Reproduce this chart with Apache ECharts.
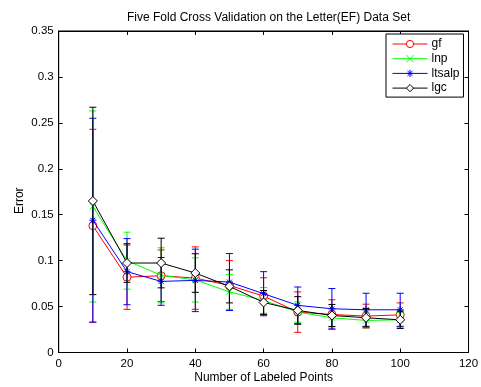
<!DOCTYPE html>
<html>
<head>
<meta charset="utf-8">
<script src="https://cdn.jsdelivr.net/npm/echarts@6/dist/echarts.min.js"></script>
<style>
  html, body { margin: 0; padding: 0; background: #fff; }
  #chart { width: 481px; height: 387px; }
</style>
</head>
<body>
<div id="chart"></div>
<script>
// Number of labeled points per experiment
const labeledPoints = [10, 20, 30, 40, 50, 60, 70, 80, 90, 100];

// Mean error and its spread (half-width of the error bar) per method
const gfMean     = [0.138, 0.082, 0.0836, 0.081, 0.073, 0.0614, 0.044, 0.0414, 0.0396, 0.041];
const gfErr      = [0.105, 0.035, 0.028, 0.034, 0.027, 0.020, 0.022, 0.016, 0.013, 0.013];
const lnpMean    = [0.159, 0.100, 0.084, 0.079, 0.066, 0.0567, 0.044, 0.0378, 0.0349, 0.0356];
const lnpErr     = [0.104, 0.031, 0.030, 0.024, 0.019, 0.014, 0.011, 0.010, 0.008, 0.008];
const ltsalpMean = [0.144, 0.088, 0.0774, 0.0785, 0.0767, 0.064, 0.0513, 0.0476, 0.0465, 0.0465];
const ltsalpErr  = [0.111, 0.036, 0.026, 0.034, 0.031, 0.024, 0.020, 0.022, 0.018, 0.018];
const lgcMean    = [0.165, 0.0974, 0.0974, 0.0865, 0.072, 0.0545, 0.0458, 0.0403, 0.0378, 0.0356];
const lgcErr     = [0.102, 0.021, 0.027, 0.021, 0.018, 0.013, 0.015, 0.012, 0.010, 0.0095];

const seriesNames = ['gf', 'lnp', 'ltsalp', 'lgc'];
const xTicks = [0, 20, 40, 60, 80, 100, 120];
const yTicks = [0, 0.05, 0.1, 0.15, 0.2, 0.25, 0.3, 0.35];

const FONT = '"Liberation Sans", Arial, Helvetica, sans-serif';

// Marker outlines: open circle, cross, asterisk, open diamond
const CIRCLE = 'path://M10,5A5,5,0,1,1,0,5A5,5,0,1,1,10,5Z';
const CROSS = 'path://M0,0L10,10M10,0L0,10';
const ASTERISK = 'path://M5,0L5,10M0,5L10,5M1.5,1.5L8.5,8.5M8.5,1.5L1.5,8.5';
const DIAMOND = 'path://M5,0L10,5L5,10L0,5Z';

const methods = [
  { name: 'gf',     mean: gfMean,     err: gfErr,     color: '#ff0000', symbol: CIRCLE,   size: 8, fill: '#ffffff' },
  { name: 'lnp',    mean: lnpMean,    err: lnpErr,    color: '#00ff00', symbol: CROSS,    size: 6, fill: '#00ff00' },
  { name: 'ltsalp', mean: ltsalpMean, err: ltsalpErr, color: '#0000ff', symbol: ASTERISK, size: 7, fill: '#0000ff' },
  { name: 'lgc',    mean: lgcMean,    err: lgcErr,    color: '#000000', symbol: DIAMOND,  size: 9, fill: '#ffffff' }
];

function errorBarRenderer(color) {
  return function (params, api) {
    const x = api.value(0);
    const lo = api.value(1);
    const hi = api.value(2);
    const top = api.coord([x, hi]);
    const bot = api.coord([x, lo]);
    const w = 3.5;
    const style = { stroke: color, lineWidth: 1, fill: null };
    return {
      type: 'group',
      children: [
        { type: 'line', shape: { x1: top[0], y1: top[1], x2: bot[0], y2: bot[1] }, style: style },
        { type: 'line', shape: { x1: top[0] - w, y1: top[1], x2: top[0] + w, y2: top[1] }, style: style },
        { type: 'line', shape: { x1: bot[0] - w, y1: bot[1], x2: bot[0] + w, y2: bot[1] }, style: style }
      ]
    };
  };
}

const series = [];
methods.forEach(function (m, k) {
  series.push({
    name: m.name + '-err',
    type: 'custom',
    renderItem: errorBarRenderer(m.color),
    encode: { x: 0, y: [1, 2] },
    data: labeledPoints.map(function (x, i) { return [x, m.mean[i] - m.err[i], m.mean[i] + m.err[i]]; }),
    z: 2 + k * 2,
    silent: true
  });
  series.push({
    name: m.name,
    type: 'line',
    data: labeledPoints.map(function (x, i) { return [x, m.mean[i]]; }),
    symbol: m.symbol,
    symbolSize: m.size,
    showAllSymbol: true,
    lineStyle: { color: m.color, width: 1 },
    itemStyle: { color: m.fill, borderColor: m.color, borderWidth: 1 },
    z: 3 + k * 2,
    animation: false
  });
});

const axisCommon = {
  axisLine: { show: true, onZero: false, lineStyle: { color: '#000', width: 1 } },
  axisTick: { show: true, inside: true, length: 4, lineStyle: { color: '#000' } },
  splitLine: { show: false }
};

const option = {
  animation: false,
  backgroundColor: '#ffffff',
  title: {
    text: 'Five Fold Cross Validation on the Letter(EF) Data Set',
    left: 263.6,
    textAlign: 'center',
    top: 7,
    textStyle: { fontFamily: FONT, fontSize: 12, fontWeight: 'normal', color: '#000' }
  },
  legend: {
    data: seriesNames,
    orient: 'vertical',
    left: 386,
    top: 34,
    width: 77,
    padding: [4, 4, 3, 6],
    itemGap: 2.7,
    itemWidth: 35,
    itemHeight: 9,
    borderColor: '#000',
    borderWidth: 1,
    backgroundColor: '#ffffff',
    lineStyle: { width: 1 },
    itemStyle: { borderWidth: 1 },
    textStyle: { fontFamily: FONT, fontSize: 12, lineHeight: 12, color: '#000', padding: [0, 0, 0, -1] }
  },
  grid: {
    left: 58.7,
    right: 12.5,
    top: 31,
    bottom: 34.5,
    containLabel: false,
    outerBoundsMode: 'none',
    show: true,
    borderColor: '#000',
    borderWidth: 1,
    backgroundColor: '#ffffff'
  },
  xAxis: [
    Object.assign({}, axisCommon, {
      type: 'value',
      min: xTicks[0],
      max: xTicks[xTicks.length - 1],
      interval: 20,
      name: 'Number of Labeled Points',
      nameLocation: 'middle',
      nameGap: 19,
      nameMoveOverlap: false,
      nameTextStyle: { fontFamily: FONT, fontSize: 12, color: '#000' },
      axisLabel: { fontFamily: FONT, fontSize: 11.5, color: '#000', margin: 5 }
    }),
    Object.assign({}, axisCommon, {
      type: 'value',
      position: 'top',
      min: xTicks[0],
      max: xTicks[xTicks.length - 1],
      interval: 20,
      axisLabel: { show: false }
    })
  ],
  yAxis: [
    Object.assign({}, axisCommon, {
      type: 'value',
      min: yTicks[0],
      max: yTicks[yTicks.length - 1],
      interval: 0.05,
      name: 'Error',
      nameLocation: 'middle',
      nameGap: 33,
      nameMoveOverlap: false,
      nameTextStyle: { fontFamily: FONT, fontSize: 12, color: '#000', padding: [0, 18, 0, 0] },
      axisLabel: {
        fontFamily: FONT, fontSize: 11.5, color: '#000', margin: 5,
        formatter: function (v) { return String(+v.toFixed(2)); }
      }
    }),
    Object.assign({}, axisCommon, {
      type: 'value',
      position: 'right',
      min: yTicks[0],
      max: yTicks[yTicks.length - 1],
      interval: 0.05,
      axisLabel: { show: false }
    })
  ],
  series: series
};

const chart = echarts.init(document.getElementById('chart'), null, { renderer: 'canvas' });
chart.setOption(option);
</script>
</body>
</html>
